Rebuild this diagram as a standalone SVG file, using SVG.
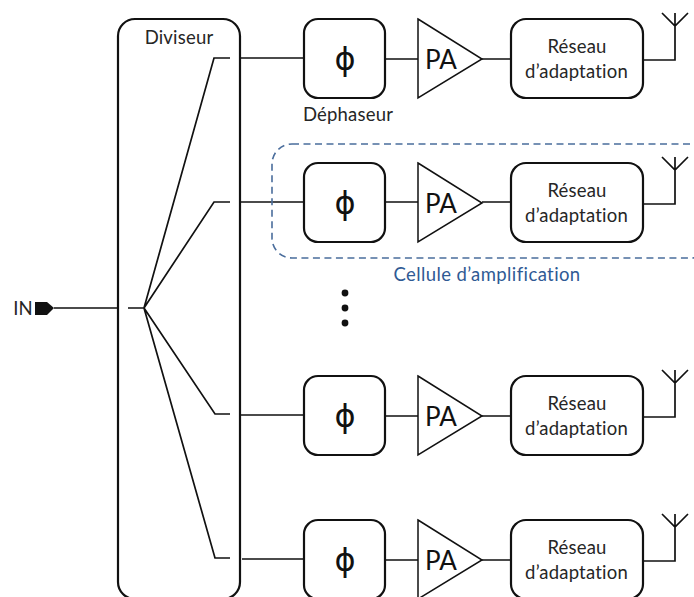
<svg xmlns="http://www.w3.org/2000/svg" width="694" height="597" viewBox="0 0 694 597">
<defs>
<style>
.b{fill:#fff;stroke:#111;stroke-width:2.2}
.l{fill:#fff;stroke:#111;stroke-width:1.5}
.w{fill:none;stroke:#111;stroke-width:1.7}
text{font-family:Lato,"Noto Sans",sans-serif;fill:#262626;text-anchor:middle;font-variant-ligatures:none}
.t{font-size:18.500px;letter-spacing:.2px}
.phi{font-size:32px;font-family:"DejaVu Sans",sans-serif;fill:#111}
.pa{font-size:26px;fill:#111}
</style>
<g id="row">
<rect class="b" x="304" y="19" width="81" height="79" rx="14"/>
<text class="phi" x="345" y="70">ϕ</text>
<path class="l" d="M418 19L482 59L418 98Z"/>
<text class="pa" x="441" y="69">PA</text>
<rect class="b" x="511" y="19" width="132" height="79" rx="15"/>
<text class="t" x="577" y="53">Réseau</text>
<text class="t" x="576.500" y="78">d’adaptation</text>
</g>
</defs>
<rect width="694" height="597" fill="#fff"/>
<g id="divider"><rect x="118" y="19" width="122" height="580" rx="17" fill="none" stroke="#111" stroke-width="2.200"/>
<text class="t" x="179" y="44">Diviseur</text></g>
<g id="connectors">
<path class="w" d="M54 308H118M128 308H144M144 308L214 58H230M144 308L214 202H230M144 308L215 414H230M144 308L215 558H230"/>
<path class="w" d="M241 58H304M385 59H418M482 59H511M643 60H675V13M662 13L675 26L688 13"/>
<path class="w" d="M241 202H304M385 202H418M482 202H511M643 204H675V157M662 157L675 170L688 157"/>
<path class="w" d="M241 415H304M385 416H418M482 416H511M643 417H675V370M662 370L675 383L688 370"/>
<path class="w" d="M242 559H304M385 560H418M482 560H511M643 561H675V514M662 514L675 527L688 514"/>
</g>
<g id="cell"><rect x="272" y="144" width="440" height="114" rx="20" fill="none" stroke="#4a6d9c" stroke-width="1.600" stroke-dasharray="7 4.500"/>
<text class="t" x="487" y="281" style="fill:#2f5a94;letter-spacing:.4px">Cellule d’amplification</text></g>
<g id="in"><text class="t" x="23" y="315">IN</text><path d="M35 302H47L54 308L47 315H35Z" fill="#111"/></g>
<g id="row1"><use href="#row"/></g>
<text class="t" x="348" y="121">Déphaseur</text>
<g id="row2"><use href="#row" y="144"/></g>
<g id="dots"><circle cx="345" cy="293" r="3.400" fill="#111"/><circle cx="345" cy="308" r="3.400" fill="#111"/><circle cx="345" cy="323" r="3.400" fill="#111"/></g>
<g id="row3"><use href="#row" y="357"/></g>
<g id="row4"><use href="#row" y="501"/></g>
</svg>
